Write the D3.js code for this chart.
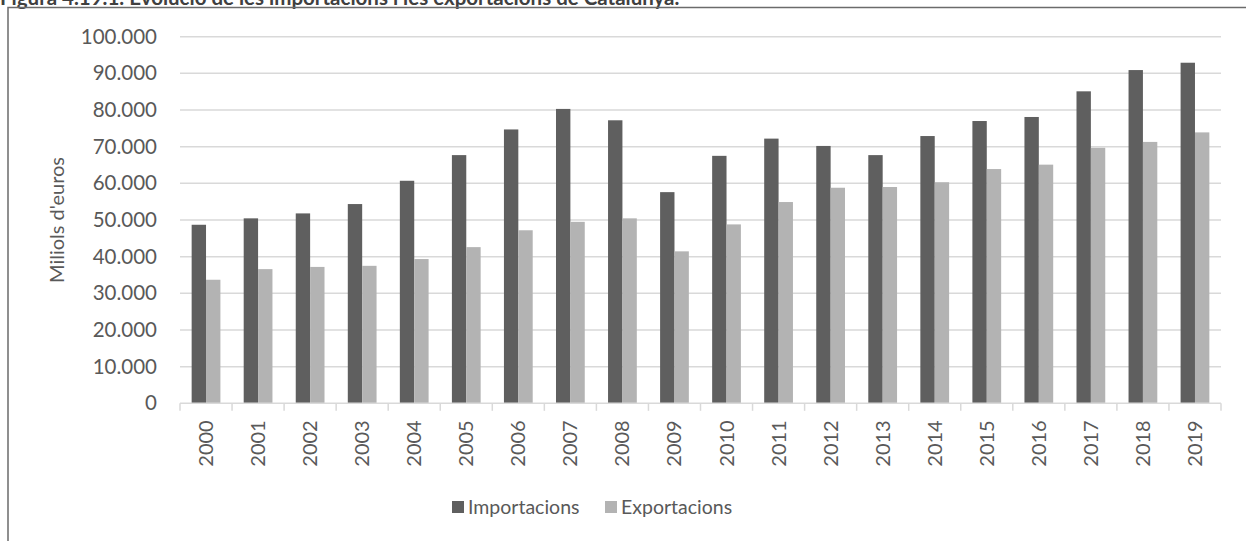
<!DOCTYPE html>
<html><head><meta charset="utf-8">
<script src="https://cdn.jsdelivr.net/npm/d3@7"></script>
<style>html,body{margin:0;padding:0;background:#fff;overflow:hidden}</style>
</head><body>
<svg id="c" width="1246" height="541"></svg>
<script>
const years = ["2000","2001","2002","2003","2004","2005","2006","2007","2008","2009","2010","2011","2012","2013","2014","2015","2016","2017","2018","2019"];
const importacions = [48700,50450,51800,54350,60700,67700,74700,80300,77200,57600,67500,72200,70200,67700,72900,77000,78100,85100,90900,92900];
const exportacions = [33700,36600,37200,37500,39350,42600,47200,49500,50450,41450,48800,54900,58800,59000,60300,63900,65100,69700,71300,73900];
const seriesNames = ["Importacions","Exportacions"];
const seriesColors = ["#5f5f5f","#b3b3b3"];
const yTicks = [0,10000,20000,30000,40000,50000,60000,70000,80000,90000,100000];
const title = "Figura 4.19.1. Evolució de les importacions i les exportacions de Catalunya.";
const yTitle = "Miliols d'euros";

const svg = d3.select("#c");
const font = "Lato, 'Open Sans', sans-serif";
const txt = "#595959";
const L = 180, R = 1221, T = 36.7, B = 403.3;

// title (cropped at top, as in the reference)
svg.append("text").attr("x", 0).attr("y", 5).attr("font-family", font)
  .attr("font-weight", "bold").attr("font-size", 20.5).attr("fill", "#404040").text(title);

// frame
svg.append("rect").attr("x", 8).attr("y", 7.5).attr("width", 1300).attr("height", 600)
  .attr("fill", "none").attr("stroke", "#6b6b6b").attr("stroke-width", 1.5);

const y = d3.scaleLinear().domain([0, 100000]).range([B, T]);
const x0 = d3.scaleBand().domain(years).range([L, R]).padding(0);
const x1 = d3.scaleBand().domain(seriesNames).range([0, x0.bandwidth()]).paddingInner(0).paddingOuter(0.81);

const fmt = v => d3.format(",")(v).replace(/,/g, ".");

// gridlines
svg.append("g").selectAll("line").data(yTicks.filter(d => d > 0)).join("line")
  .attr("x1", L).attr("x2", R).attr("y1", d => y(d)).attr("y2", d => y(d))
  .attr("stroke", "#d9d9d9").attr("stroke-width", 1.5);

// y axis labels
const yAxis = d3.axisLeft(y).tickValues(yTicks).tickFormat(fmt).tickSize(0).tickPadding(0);
const gy = svg.append("g").attr("transform", `translate(157,0)`).call(yAxis);
gy.select(".domain").remove();
gy.selectAll("text").attr("font-family", font).attr("font-size", 20.5).attr("fill", txt);

// bars
const data = years.map((yr, i) => ({year: yr, vals: [importacions[i], exportacions[i]]}));
const g = svg.append("g");
data.forEach(d => {
  seriesNames.forEach((s, j) => {
    g.append("rect")
      .attr("x", x0(d.year) + x1(s)).attr("width", x1.bandwidth())
      .attr("y", y(d.vals[j])).attr("height", y(0) - y(d.vals[j]))
      .attr("fill", seriesColors[j]);
  });
});

// x axis
const xAxis = d3.axisBottom(x0).tickSize(0).tickPadding(0);
const gx = svg.append("g").attr("transform", `translate(0,${B})`).call(xAxis);
gx.select(".domain").remove();
gx.append("line").attr("x1", L).attr("x2", R).attr("y1", 0).attr("y2", 0).attr("stroke", "#d9d9d9").attr("stroke-width", 1.5);
const bounds = years.map(d => x0(d)).concat([R]);
gx.selectAll(".bt").data(bounds).join("line").attr("class", "bt")
  .attr("x1", d => d).attr("x2", d => d).attr("y1", 0).attr("y2", 7.5)
  .attr("stroke", "#d9d9d9").attr("stroke-width", 1.5);
gx.selectAll(".tick text").attr("font-family", font).attr("font-size", 20).attr("fill", txt)
  .attr("text-anchor", "end").attr("dy", "0.35em")
  .attr("transform", "translate(0,17) rotate(-90)").attr("y", 0).attr("x", 0);

// y title
svg.append("text").attr("transform", "translate(64,220) rotate(-90)").attr("text-anchor", "middle")
  .attr("font-family", font).attr("font-size", 20).attr("fill", txt).text(yTitle);

// legend
const legX = [452, 605];
seriesNames.forEach((s, j) => {
  svg.append("rect").attr("x", legX[j]).attr("y", 501).attr("width", 12).attr("height", 12).attr("fill", seriesColors[j]);
  svg.append("text").attr("x", legX[j] + 16).attr("y", 514).attr("font-family", font)
    .attr("font-size", 19.5).attr("fill", txt).text(s);
});
</script>
</body></html>
